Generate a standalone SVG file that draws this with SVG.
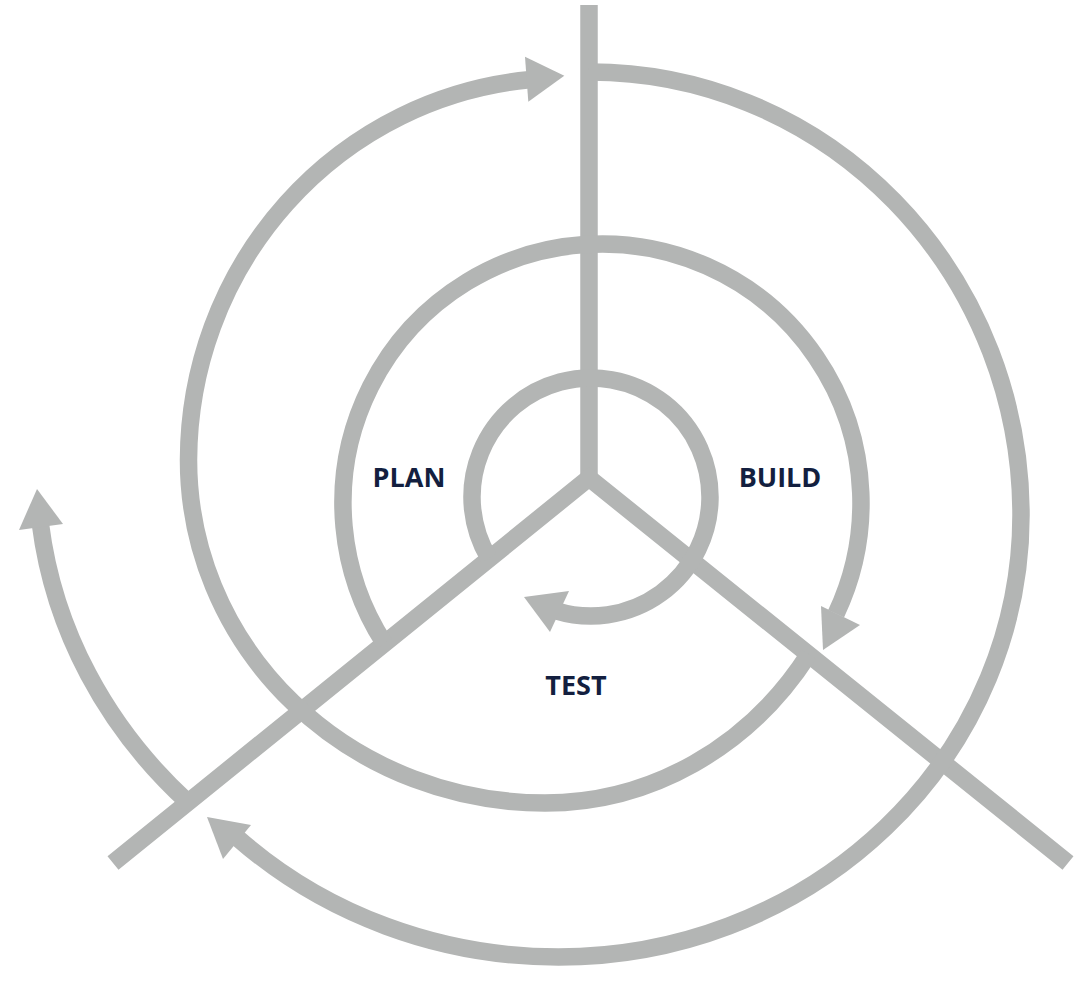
<svg xmlns="http://www.w3.org/2000/svg" width="1083" height="982" viewBox="0 0 1083 982">
<style>
.ln{fill:none;stroke:#b3b5b4;stroke-width:17.5;stroke-linecap:butt;stroke-linejoin:miter}
.head{fill:#b3b5b4;stroke:none}
.lbl{font-family:"Open Sans","Noto Sans","Liberation Sans",sans-serif;font-weight:700;font-size:27px;fill:#131f3f;text-anchor:middle}
</style>
<rect width="1083" height="982" fill="#ffffff"/>
<g id="connectors">
<path id="axis-top" class="ln" d="M589 5 V478"/>
<path id="axis-bottom" class="ln" d="M113 863 L589 478 L1068 863"/>
<path id="spiral-1" class="ln" d="M489 558.3 A119 119 0 1 1 556.2 610.8"/>
<polygon class="head" points="524,597 569,591 550,632"/>
<path id="spiral-2" class="ln" d="M384.4 643.5 A259 259 0 1 1 836.1 613.7"/>
<polygon class="head" points="823,650 821,606 860,625"/>
<path id="spiral-3" class="ln" d="M808.7 654.3 A320 343 0 0 1 545 803 A356.5 343 0 0 1 188.5 460 A376.5 383 0 0 1 529 79.8"/>
<polygon class="head" points="564.3,75.7 525,56.7 528.3,101.7"/>
<path id="spiral-4" class="ln" d="M589 72 A431 443 0 0 1 1021 515 A462.5 442 0 0 1 558.5 957 A470 442 0 0 1 238 838.3"/>
<polygon class="head" points="207,817 251,825 223,859"/>
<path id="spiral-5" class="ln" d="M188 802.4 A520 471.8 0 0 1 40.4 524"/>
<polygon class="head" points="37,489 19,530 63,524"/>
</g>
<g id="plan"><text class="lbl" x="409" y="487">PLAN</text></g>
<g id="build"><text class="lbl" x="780" y="487">BUILD</text></g>
<g id="test"><text class="lbl" x="576" y="695">TEST</text></g>
</svg>
